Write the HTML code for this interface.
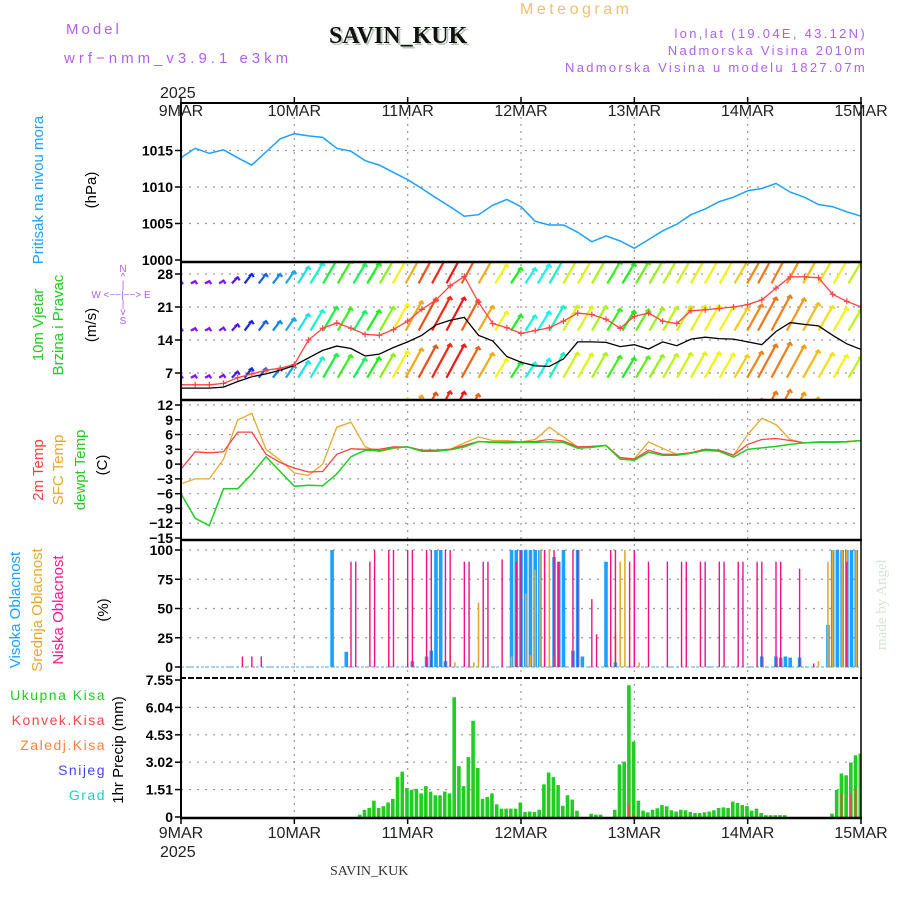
<!DOCTYPE html>
<html><head><meta charset="utf-8"><title>Meteogram SAVIN_KUK</title>
<style>
html,body{margin:0;padding:0;background:#fff;}
svg{display:block;font-family:"Liberation Sans",sans-serif;}
</style></head>
<body>
<svg id="chart" width="900" height="900" viewBox="0 0 900 900" xmlns="http://www.w3.org/2000/svg">
<defs>
<clipPath id="cpP"><rect x="181" y="103" width="680" height="159"/></clipPath>
<clipPath id="cpW"><rect x="181" y="263" width="680" height="137"/></clipPath>
<clipPath id="cpT"><rect x="181" y="401" width="680" height="139"/></clipPath>
<clipPath id="cpC"><rect x="181" y="541" width="680" height="137"/></clipPath>
<clipPath id="cpR"><rect x="181" y="679" width="680" height="139"/></clipPath>
</defs>
<g id="grid"></g>
<g id="marks"></g>
<g id="axes"></g>

<!-- header -->
<text x="66" y="34" font-size="15" fill="#b060f0" letter-spacing="3">Model</text>
<text x="64" y="63" font-size="15" fill="#b060f0" letter-spacing="4">wrf−nmm_v3.9.1 e3km</text>
<text x="331" y="45" font-size="24" font-weight="bold" font-family="Liberation Serif, serif" fill="#b8c8b8">SAVIN_KUK</text>
<text x="329" y="43" font-size="24" font-weight="bold" font-family="Liberation Serif, serif" fill="#111">SAVIN_KUK</text>
<text x="520" y="14" font-size="16" fill="#f0c070" letter-spacing="3.5">Meteogram</text>
<text x="867" y="38" font-size="13" fill="#b060f0" text-anchor="end" letter-spacing="2.3">lon,lat (19.04E, 43.12N)</text>
<text x="867" y="55" font-size="13" fill="#b060f0" text-anchor="end" letter-spacing="2.3">Nadmorska Visina 2010m</text>
<text x="867" y="72" font-size="13" fill="#b060f0" text-anchor="end" letter-spacing="2.3">Nadmorska Visina u modelu 1827.07m</text>
<text x="160" y="98" font-size="16" fill="#222">2025</text>
<text x="160" y="857" font-size="16" fill="#222">2025</text>
<text x="330" y="875" font-size="14" font-family="Liberation Serif, serif" fill="#333">SAVIN_KUK</text>
<text transform="translate(886,650) rotate(-90)" font-size="15" font-family="Liberation Serif, serif" fill="#d4e4d4">made by Angel</text>

<!-- left labels -->
<text transform="translate(43,190) rotate(-90)" font-size="15" fill="#1ea0ff" text-anchor="middle">Pritisak na nivou mora</text>
<text transform="translate(96,190) rotate(-90)" font-size="15" fill="#000" text-anchor="middle">(hPa)</text>
<text transform="translate(43,325) rotate(-90)" font-size="15" fill="#22cc22" text-anchor="middle">10m Vjetar</text>
<text transform="translate(63,325) rotate(-90)" font-size="15" fill="#22cc22" text-anchor="middle">Brzina i Pravac</text>
<text transform="translate(96,325) rotate(-90)" font-size="15" fill="#000" text-anchor="middle">(m/s)</text>
<g fill="#b060f0" font-size="10" text-anchor="middle">
<text x="123" y="272">N</text><text x="123" y="280">^</text><text x="123" y="288">|</text>
<text x="121" y="298">W  &lt;−−|−−&gt;  E</text>
<text x="123" y="307">|</text><text x="123" y="315">v</text><text x="123" y="324">S</text>
</g>
<text transform="translate(43,470) rotate(-90)" font-size="15" fill="#ff4040" text-anchor="middle">2m Temp</text>
<text transform="translate(63,470) rotate(-90)" font-size="15" fill="#e8a830" text-anchor="middle">SFC Temp</text>
<text transform="translate(85,470) rotate(-90)" font-size="15" fill="#22cc22" text-anchor="middle">dewpt Temp</text>
<text transform="translate(107,465) rotate(-90)" font-size="15" fill="#000" text-anchor="middle">(C)</text>
<text transform="translate(20,610) rotate(-90)" font-size="15" fill="#1ea0ff" text-anchor="middle">Visoka Oblacnost</text>
<text transform="translate(42,610) rotate(-90)" font-size="15" fill="#e8a830" text-anchor="middle">Srednja Oblacnost</text>
<text transform="translate(63,610) rotate(-90)" font-size="15" fill="#ff1493" text-anchor="middle">Niska Oblacnost</text>
<text transform="translate(108,610) rotate(-90)" font-size="15" fill="#000" text-anchor="middle">(%)</text>
<g font-size="14" text-anchor="end" letter-spacing="1.5">
<text x="106" y="700" fill="#22cc22">Ukupna  Kisa</text>
<text x="106" y="725" fill="#ff4444">Konvek.Kisa</text>
<text x="106" y="750" fill="#ff8040">Zaledj.Kisa</text>
<text x="106" y="775" fill="#4444ff">Snijeg</text>
<text x="106" y="800" fill="#22cccc">Grad</text>
</g>
<text transform="translate(123,750) rotate(-90)" font-size="15" fill="#000" text-anchor="middle">1hr Precip (mm)</text>
</svg>

<script>
// ---------- data (3-hourly, hours 0..144 from 9MAR 00) ----------
const dayLabels = ["9MAR","10MAR","11MAR","12MAR","13MAR","14MAR","15MAR"];
const pressure = [1014.0,1015.3,1014.6,1015.1,1014.0,1013.0,1014.8,1016.6,1017.3,1017.0,1016.8,1015.3,1014.9,1013.6,1013.0,1012.0,1011.0,1009.8,1008.5,1007.3,1006.0,1006.2,1007.5,1008.3,1007.3,1005.3,1004.8,1004.8,1003.8,1002.5,1003.3,1002.6,1001.6,1002.8,1004.0,1004.9,1006.2,1007.0,1008.0,1008.6,1009.5,1009.8,1010.5,1009.3,1008.6,1007.6,1007.3,1006.6,1006.0];
const windSpeed = [3.8,3.8,3.8,4,5.2,6.2,6.8,7.6,8.6,10.2,11.8,12.7,12.2,10.6,11,12.4,13.6,15,17.2,18.2,18.8,15,13.8,10.5,9.3,8.5,8.4,10,13.6,13.6,13.5,12.6,13,12.1,13.6,12.8,14.2,14.6,14.3,14.2,13.6,13,15.8,17.7,17.3,17,15,13.2,12];
const windGust = [4.5,4.5,4.5,4.8,6,6.8,7.6,8,8.8,14,16.5,17.6,16.5,15.2,15,16.2,18,20.5,22.5,25.5,27.5,22,17.5,16.6,15.4,16,16.6,18,19.7,19.4,18.4,16.5,19,19.7,18,17.5,20.2,20.4,20.7,21,21.5,22.5,25,27.4,27.4,27.2,23.7,22.2,21];
const windLevel = [6.5,6.5,6.5,6.6,7.3,8,8,8,8.6,9.5,10.3,11,10.8,10.1,10.3,11,11.6,12.2,12.8,13.1,13,12.5,11.2,10,9.3,9.2,10,11.2,11.3,11.1,11.2,10.6,10.2,10.5,10.8,11,11.2,11.3,11.4,11.1,10.8,11.5,13,13.4,12.8,11.8,11.2,10.8,10.5];
const windDirHue = [270,270,270,265,255,235,220,210,200,185,170,130,110,140,120,90,60,40,15,5,0,20,40,60,120,175,180,165,70,65,80,110,120,100,85,75,70,65,60,60,50,30,25,28,35,45,55,60,75];
const temp2m = [-1,2.5,2.3,2.5,6.5,6.5,2,0.3,-0.8,-1.6,-1.5,2,3.1,3,3,3.5,3.5,2.8,2.8,3,3.8,4.6,4.5,4.5,4.5,4.6,5,4.7,3.5,3.6,3.8,1.3,1,2.8,2,2,2.3,3,2.8,1.8,4,5,5.2,4.8,4.3,4.5,4.5,4.6,4.8];
const tempSfc = [-4,-3,-3,1,9,10.3,3,0.8,-1.8,-2.3,0,7.5,8.5,3.5,2.5,3.2,3.5,2.8,2.8,3,4.3,5.5,4.8,4.8,4.5,5,7.5,5.5,3.5,3.6,3.8,1.3,1.1,4.5,3.2,2,2.3,3,2.8,1.8,6,9.3,8,5,4.3,4.5,4.5,4.6,4.8];
const tempDew = [-6,-11,-12.5,-5,-5,-2,1.5,-1.5,-4.5,-4.3,-4.4,-2,1.5,2.8,2.7,3.3,3.5,2.6,2.6,2.9,3.5,4.6,4.4,4.3,4.4,4.4,4.5,4.4,3.2,3.4,3.8,1,0.8,2.4,1.8,1.8,2.2,2.8,2.6,1.4,3,3.3,3.6,4,4.3,4.4,4.4,4.5,4.8];
// cloud cover (hour, %)
const highHours = [32,35,49,52,53,54,55,56,70,71,72,73,74,75,76,79,80,81,83,84,85,90,92,123,126,127,128,129,131,137,138,139,140,141,142,143];
const highVals  = [100,13,5,9,14,100,100,5,100,100,100,100,100,100,100,94,90,100,14,100,9,90,4,9,9,8,9,8,8,36,100,100,100,100,100,100];
const midHours = [57,58,62,63,70,73,74,75,76,77,78,79,92,93,94,96,97,135,137,138,140,141,143];
const midVals  = [38,4,4,55,9,63,10,83,100,100,100,10,30,90,100,100,4,5,90,100,100,100,100];
const lowHours = [13,15,17,36,37,40,41,44,45,48,49,52,53,56,57,60,61,64,65,68,71,72,77,79,80,83,84,87,88,91,92,95,96,99,103,106,107,110,111,114,115,118,119,122,123,126,127,131,134,141];
const lowVals  = [9,9,9,90,90,90,100,100,100,100,100,100,100,100,100,90,90,90,90,92,90,100,100,100,90,100,100,58,28,100,100,90,100,90,90,90,90,90,90,90,90,90,90,90,90,90,90,84,3,90];
// hourly precip from hour 38
const precipStart = 38;
const precipTotal = [0.13,0.4,0.5,0.9,0.5,0.6,0.8,1.0,2.2,2.5,1.6,1.5,1.55,1.3,1.7,1.4,1.2,1.2,1.4,1.3,6.6,2.8,1.7,3.3,5.3,2.7,1.0,1.1,1.3,0.7,0.46,0.46,0.46,0.46,0.8,0.28,0.3,0.28,0.4,1.8,2.45,2.2,1.76,0.62,1.2,0.96,0.35,0,0,0.18,0.13,0.13,0,0,0.4,2.9,3.05,7.26,4.15,0.9,0.35,0.26,0.4,0.48,0.66,0.59,0.37,0.3,0.4,0.37,0.28,0.22,0.22,0.26,0.3,0.37,0.5,0.53,0.5,0.85,0.78,0.66,0.6,0.35,0.46,0.22,0.1,0.1,0.1,0.1,0.1,0,0,0,0,0,0,0,0,0,0.18,1.5,2.4,2.3,3.0,3.4,3.5];
const convHours = [95,96,140,142,143];
const convVals  = [0.7,0.15,1.3,1.3,1.6];
const pTicks = [1000,1005,1010,1015];
const wTicks = [7,14,21,28];
const tTicks = [12,9,6,3,0,-3,-6,-9,-12,-15];
const cTicks = [0,25,50,75,100];
const rTicks = [0,1.51,3.02,4.53,6.04,7.55];

// ---------- scales ----------
const NS="http://www.w3.org/2000/svg";
const X = h => 181 + h*680/144;
const yP = p => 260 - (p-1000)*7.3;
const yW = v => 373 - (v-7)*33/7;
const yT = t => 405 + (12-t)*133/27;
const yC = c => 667 - c*1.17;
const yR = m => 817 - m*137/7.55;
const hr3 = i => i*3;

function el(tag, attrs, parent){
  const e=document.createElementNS(NS,tag);
  for(const k in attrs) e.setAttribute(k,attrs[k]);
  parent.appendChild(e); return e;
}
const grid=document.getElementById('grid');
const marks=document.getElementById('marks');
const axes=document.getElementById('axes');

// grid
const panels=[[103,262,pTicks,yP],[262,400,wTicks,yW],[400,540,tTicks,yT],[540,678,cTicks,yC],[678,818,rTicks,yR]];
for(let d=1; d<dayLabels.length-1; d++){
  const g=el('line',{x1:X(d*24),x2:X(d*24),y1:103,y2:818,stroke:'#999','stroke-width':1.2,'stroke-dasharray':'2,5'},grid);
  
  
}
panels.forEach(([top,bot,ticks,sc])=>{
  ticks.forEach(t=>{
    const y=sc(t);
    if(y>top+3 && y<bot-3){
      const g=el('line',{x1:181,x2:861,y1:y,y2:y,stroke:'#999','stroke-width':1.2,'stroke-dasharray':'2,6'},grid);
      
      
    }
  });
});

function polyline(vals, sc, color, clip, name, w){
  const pts=vals.map((v,i)=>X(hr3(i)).toFixed(1)+','+sc(v).toFixed(1)).join(' ');
  const p=el('polyline',{points:pts,fill:'none',stroke:color,'stroke-width':w||1.3,'clip-path':clip},marks);
  
  
  return p;
}

// pressure
polyline(pressure,yP,'#1ea0ff','url(#cpP)','pressure-line',1.5);

// wind arrows
const wg=el('g',{'clip-path':'url(#cpW)'},marks);


const rowOffsets=[20,10,0,-10];
const rowBases=[26,16,6,-4];
rowOffsets.forEach((off,r)=>{
  windLevel.forEach((lv,i)=>{
    const tx=X(hr3(i)), ty=yW(lv+off), by=yW(rowBases[r]);
    const hgt=Math.max(by-ty,3);
    const bx=tx-hgt*0.45-3;
    const col='hsl('+windDirHue[i]+',90%,52%)';
    const a=el('path',{d:`M${bx.toFixed(1)},${by.toFixed(1)}L${tx.toFixed(1)},${ty.toFixed(1)}M${(tx-3).toFixed(1)},${(ty+2).toFixed(1)}L${tx.toFixed(1)},${ty.toFixed(1)}L${(tx+2).toFixed(1)},${(ty+3).toFixed(1)}`,stroke:col,'stroke-width':2.2,fill:'none'},wg);
    
    
  });
});
polyline(windSpeed,yW,'#000','url(#cpW)','wind-speed-line',1.3);
polyline(windGust,yW,'#ff4444','url(#cpW)','wind-gust-line',1.3);
windGust.forEach((v,i)=>{
  const x=X(hr3(i)), y=yW(v);
  const m=el('path',{d:`M${x-3},${y}h6M${x},${y-3}v6`,stroke:'#ff4444','stroke-width':1.2,'clip-path':'url(#cpW)'},marks);
  
  
});

// temperatures
polyline(tempSfc,yT,'#e8a830','url(#cpT)','sfc-temp-line',1.3);
polyline(temp2m,yT,'#ff4040','url(#cpT)','temp-2m-line',1.3);
polyline(tempDew,yT,'#22cc22','url(#cpT)','dewpoint-line',1.5);

// clouds
const baseC=el('line',{x1:181,x2:861,y1:yC(0),y2:yC(0),stroke:'#8cc8e8','stroke-width':1.5,'stroke-dasharray':'3,2'},marks);


function cloudBars(hours, vals, color, w, name){
  hours.forEach((h,i)=>{
    const y=yC(vals[i]);
    const b=el('rect',{x:X(h)-w/2,y:y,width:w,height:yC(0)-y,fill:color,'clip-path':'url(#cpC)'},marks);
    
    
  });
}
cloudBars(highHours,highVals,'#1ea0ff',3.6,'high-cloud-bar');
cloudBars(midHours,midVals,'#e8a830',1.6,'mid-cloud-bar');
cloudBars(lowHours,lowVals,'#ee1188',1.4,'low-cloud-bar');

// precipitation
precipTotal.forEach((v,i)=>{
  if(v<=0) return;
  const h=precipStart+i, y=yR(v);
  const b=el('rect',{x:X(h)-2.5,y:y,width:3.6,height:yR(0)-y,fill:'#22cc22','clip-path':'url(#cpR)'},marks);
  
  
});
convHours.forEach((h,i)=>{
  const y=yR(convVals[i]);
  const b=el('rect',{x:X(h)-1.5,y:y,width:1.8,height:yR(0)-y,fill:'#ff4444','clip-path':'url(#cpR)'},marks);
  
  
});

// frames & axes
[[103,2],[262,2.5],[400,2.5],[540,2.5],[818,2.5]].forEach(([y,w])=>{
  const l=el('line',{x1:180,x2:862,y1:y,y2:y,stroke:'#000','stroke-width':w},axes);
  
  
});
const dl=el('line',{x1:180,x2:862,y1:678,y2:678,stroke:'#000','stroke-width':2,'stroke-dasharray':'6,2'},axes);


const la=el('line',{x1:181,x2:181,y1:103,y2:819,stroke:'#000','stroke-width':2},axes);


const ra=el('line',{x1:861,x2:861,y1:103,y2:819,stroke:'#000','stroke-width':1.5},axes);



panels.forEach(([top,bot,ticks,sc],pi)=>{
  ticks.forEach(t=>{
    const y=sc(t);
    const tk=el('line',{x1:175,x2:181,y1:y,y2:y,stroke:'#000','stroke-width':1.5},axes);
    
    
    const lab=el('text',{x:173,y:y+5,'font-size':14,'text-anchor':'end',fill:'#000','font-weight':'bold'},axes);
    lab.textContent = (pi===4) ? (t===0?'0':t.toFixed(2)) : String(t).replace('-','−');
    
    
  });
});
dayLabels.forEach((d,i)=>{
  const x=X(i*24);
  const t1=el('text',{x:x,y:116,'font-size':16,'text-anchor':'middle',fill:'#222'},axes);
  t1.textContent=d;
  
  
  const t2=el('text',{x:x,y:838,'font-size':16,'text-anchor':'middle',fill:'#222'},axes);
  t2.textContent=d;
  
  
  [[103,97],[818,824]].forEach(([a,b])=>{
    const tk=el('line',{x1:x,x2:x,y1:a,y2:b,stroke:'#000','stroke-width':1.5},axes);
    
    
  });
});
</script>
</body></html>
